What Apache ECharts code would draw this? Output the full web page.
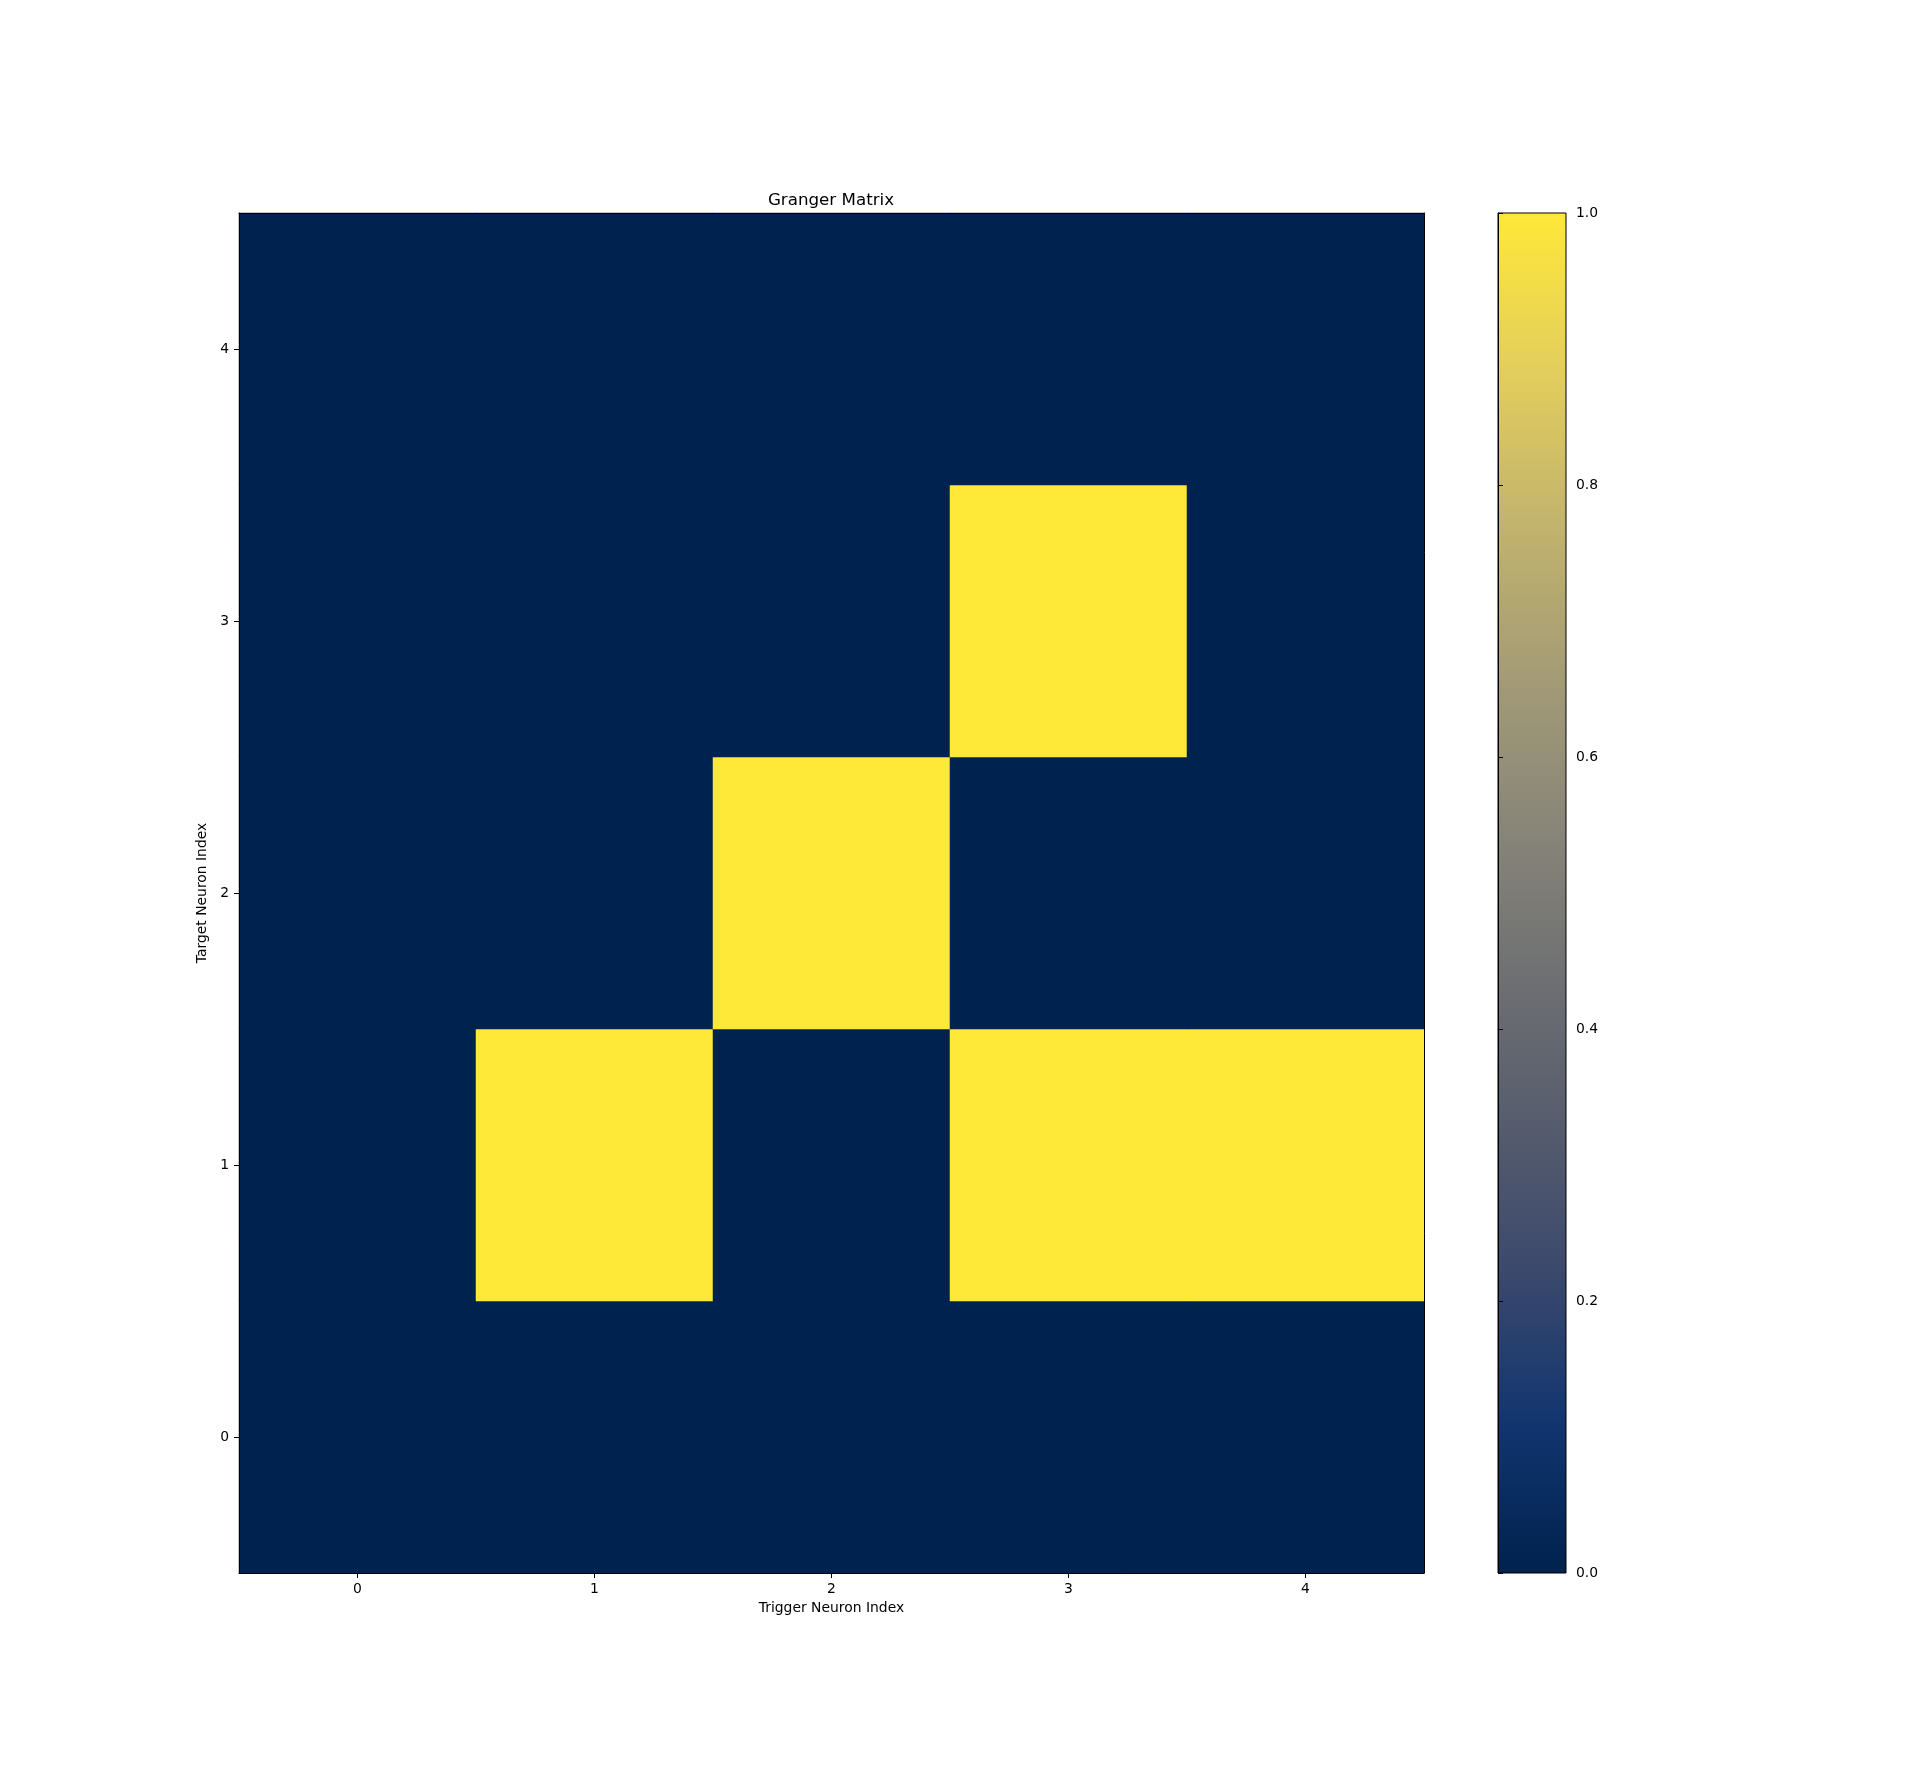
<!DOCTYPE html>
<html>
<head>
<meta charset="utf-8">
<script src="https://cdn.jsdelivr.net/npm/echarts@6/dist/echarts.min.js"></script>
<style>html,body{margin:0;padding:0;background:#fff;}#c{width:1911px;height:1768px;}</style>
</head>
<body>
<div id="c"></div>
<script>
// Data
const triggerLabels = ['0', '1', '2', '3', '4'];
const targetLabels = ['0', '1', '2', '3', '4'];
// rows by target index (0..4), columns by trigger index (0..4)
const row0 = [0, 0, 0, 0, 0];
const row1 = [0, 1, 0, 1, 1];
const row2 = [0, 0, 1, 0, 0];
const row3 = [0, 0, 0, 1, 0];
const row4 = [0, 0, 0, 0, 0];
const matrixRows = [row0, row1, row2, row3, row4];
const colorbarTicks = [0, 0.2, 0.4, 0.6, 0.8, 1.0];

const cividis = ['#00224e', '#123570', '#3b496c', '#575d6d', '#707173', '#8a8779', '#a69d75', '#c4b56c', '#e4cf5b', '#fee838'];

const heatData = [];
matrixRows.forEach((row, y) => row.forEach((v, x) => heatData.push([x, y, v])));

const FONT = 'DejaVu Sans';
const chart = echarts.init(document.getElementById('c'), null, {renderer: 'canvas'});
const gradStops = cividis.map((c, i) => ({offset: 1 - i / (cividis.length - 1), color: c}));

chart.setOption({
  backgroundColor: '#fff',
  animation: false,
  textStyle: {fontFamily: FONT, color: '#000'},
  title: {
    text: 'Granger Matrix', left: 826, top: 187, textAlign: 'center',
    textStyle: {fontFamily: FONT, fontSize: 16.7, fontWeight: 'normal', color: '#000'}
  },
  grid: [
    {left: 239, top: 213, width: 1185, height: 1360, containLabel: false, show: true,
     borderWidth: 0, backgroundColor: cividis[0]},
    {left: 1498, top: 213, width: 68, height: 1360, containLabel: false, show: true,
     borderColor: '#000', borderWidth: 1,
     backgroundColor: {type: 'linear', x: 0, y: 0, x2: 0, y2: 1, colorStops: gradStops}}
  ],
  xAxis: [
    {type: 'category', gridIndex: 0, data: triggerLabels, position: 'bottom', z: 5,
     name: 'Trigger Neuron Index', nameLocation: 'middle', nameGap: 27,
     nameTextStyle: {fontFamily: FONT, fontSize: 13.9, color: '#000'},
     axisLine: {show: true, lineStyle: {color: '#000', width: 1}},
     axisTick: {show: true, alignWithLabel: true, length: 5, lineStyle: {color: '#000'}},
     axisLabel: {fontFamily: FONT, fontSize: 13.9, color: '#000', margin: 9},
     splitLine: {show: false}},
    {type: 'category', gridIndex: 0, data: triggerLabels, position: 'top', z: 5,
     axisLine: {show: true, lineStyle: {color: '#000', width: 1}},
     axisTick: {show: false}, axisLabel: {show: false}, splitLine: {show: false}},
    {type: 'value', gridIndex: 1, min: 0, max: 1, show: false}
  ],
  yAxis: [
    {type: 'category', gridIndex: 0, data: targetLabels, position: 'left', z: 5,
     name: 'Target Neuron Index', nameLocation: 'middle', nameGap: 26, nameRotate: 90,
     nameTextStyle: {fontFamily: FONT, fontSize: 13.9, color: '#000'},
     axisLine: {show: true, lineStyle: {color: '#000', width: 1}},
     axisTick: {show: true, alignWithLabel: true, length: 5, lineStyle: {color: '#000'}},
     axisLabel: {fontFamily: FONT, fontSize: 13.9, color: '#000', margin: 10},
     splitLine: {show: false}},
    {type: 'category', gridIndex: 0, data: targetLabels, position: 'right', z: 5,
     axisLine: {show: true, lineStyle: {color: '#000', width: 1}},
     axisTick: {show: false}, axisLabel: {show: false}, splitLine: {show: false}},
    {type: 'value', gridIndex: 1, min: 0, max: 1, interval: 0.2, position: 'right', z: 5,
     axisLine: {show: true, lineStyle: {color: '#000', width: 1}},
     axisTick: {show: true, length: 5, lineStyle: {color: '#000'}},
     axisLabel: {fontFamily: FONT, fontSize: 13.9, color: '#000', margin: 10,
                 formatter: v => v.toFixed(1)},
     splitLine: {show: false}}
  ],
  visualMap: {
    type: 'continuous', show: false, min: 0, max: 1, seriesIndex: 0, dimension: 2,
    inRange: {color: cividis}
  },
  series: [
    {type: 'heatmap', xAxisIndex: 0, yAxisIndex: 0, data: heatData,
     itemStyle: {borderWidth: 0}, emphasis: {disabled: true}, progressive: 0}
  ]
});
</script>
</body>
</html>
